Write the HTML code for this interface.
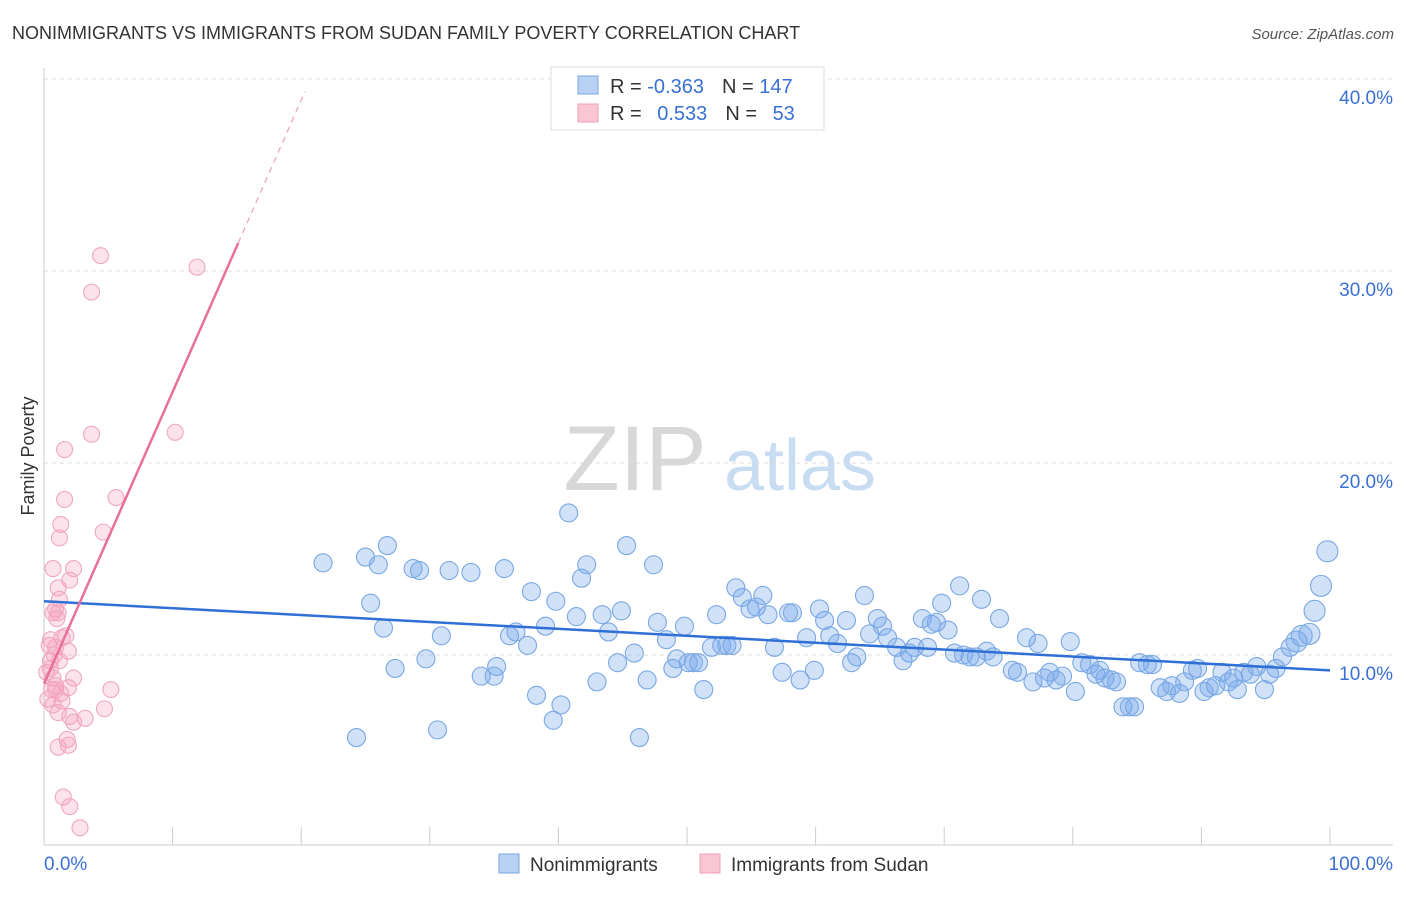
<!DOCTYPE html>
<html><head><meta charset="utf-8"><style>
body{margin:0;background:#fff;font-family:"Liberation Sans",sans-serif;}
svg text{font-family:"Liberation Sans",sans-serif;}
</style></head><body>
<svg id="chart" width="1406" height="892">
<text x="12" y="39" font-size="18" fill="#333">NONIMMIGRANTS VS IMMIGRANTS FROM SUDAN FAMILY POVERTY CORRELATION CHART</text>
<text x="1394" y="39" font-size="15" fill="#555" font-style="italic" text-anchor="end">Source: ZipAtlas.com</text>
<text x="0" y="0" transform="translate(34,456) rotate(-90)" font-size="18" fill="#333" text-anchor="middle">Family Poverty</text>
<g><text x="635" y="490" font-size="92" fill="#d8d8d8" font-family="Liberation Serif" text-anchor="middle">ZIP</text><text x="800" y="490" font-size="72" fill="#c8dcf2" text-anchor="middle">atlas</text></g>
<g id="grid"></g><g id="axes"></g><g id="pts"></g><g id="lines"></g>
<g>
<rect x="551" y="67" width="273" height="63" fill="#fff" stroke="#ddd"/>
<rect x="578" y="76" width="20" height="18" fill="#b8d2f4" stroke="#7aa6e2"/>
<rect x="578" y="104" width="20" height="18" fill="#f9c6d4" stroke="#f0a0b8"/>
<text x="610" y="93" font-size="20" fill="#333">R = <tspan fill="#3a70d4">-0.363</tspan><tspan dx="18">N = </tspan><tspan fill="#3a70d4">147</tspan></text>
<text x="610" y="120" font-size="20" fill="#333">R = <tspan fill="#3a70d4" dx="10">0.533</tspan><tspan dx="18">N = </tspan><tspan fill="#3a70d4" dx="10">53</tspan></text>
</g>
<g>
<rect x="499" y="854" width="20" height="19" fill="#b8d2f4" stroke="#7aa6e2"/>
<text x="530" y="871" font-size="19" fill="#333">Nonimmigrants</text>
<rect x="700" y="854" width="20" height="19" fill="#f9c6d4" stroke="#f0a0b8"/>
<text x="731" y="871" font-size="19" fill="#333">Immigrants from Sudan</text>
</g>
</svg>
<script>
const yTicks=[10,20,30,40];
const blueX=[21.7,25.0,26.0,26.7,25.4,26.4,27.3,28.7,29.2,30.9,29.7,30.6,24.3,31.5,33.2,35.8,34.0,35.2,35.0,36.2,36.7,37.6,37.9,38.3,39.0,39.6,39.8,40.2,40.8,41.4,41.8,42.2,43.0,43.4,43.9,44.6,44.9,45.3,45.9,46.3,46.9,47.4,47.7,48.4,48.9,49.2,49.8,50.1,50.5,50.9,51.3,51.9,52.3,52.7,53.1,53.5,53.8,54.3,54.9,55.4,55.9,56.3,56.8,57.4,57.9,58.2,58.8,59.3,59.9,60.3,60.7,61.1,61.7,62.4,62.8,63.2,63.8,64.2,64.8,65.2,65.6,66.3,66.8,67.3,67.7,68.3,68.7,69.0,69.4,69.8,70.3,70.8,71.2,71.5,72.0,72.5,72.9,73.3,73.8,74.3,75.3,75.7,76.4,76.9,77.3,77.8,78.2,78.7,79.2,79.8,80.2,80.7,81.3,81.8,82.1,82.5,83.0,83.4,83.9,84.4,84.8,85.2,85.8,86.2,86.8,87.3,87.7,88.3,88.7,89.3,89.7,90.2,90.6,91.1,91.6,92.1,92.5,92.8,93.3,93.8,94.3,94.9,95.3,95.8,96.3,96.9,97.4,97.8,98.4,98.8,99.3,99.8];
const blueY=[14.8,15.1,14.7,15.7,12.7,11.4,9.3,14.5,14.4,11.0,9.8,6.1,5.7,14.4,14.3,14.5,8.9,9.4,8.9,11.0,11.2,10.5,13.3,7.9,11.5,6.6,12.8,7.4,17.4,12.0,14.0,14.7,8.6,12.1,11.2,9.6,12.3,15.7,10.1,5.7,8.7,14.7,11.7,10.8,9.3,9.8,11.5,9.6,9.6,9.6,8.2,10.4,12.1,10.5,10.5,10.5,13.5,13.0,12.4,12.5,13.1,12.1,10.4,9.1,12.2,12.2,8.7,10.9,9.2,12.4,11.8,11.0,10.6,11.8,9.6,9.9,13.1,11.1,11.9,11.5,10.9,10.4,9.7,10.1,10.4,11.9,10.4,11.6,11.7,12.7,11.3,10.1,13.6,10.0,9.9,9.9,12.9,10.2,9.9,11.9,9.2,9.1,10.9,8.6,10.6,8.8,9.1,8.7,8.9,10.7,8.1,9.6,9.5,9.0,9.2,8.8,8.7,8.6,7.3,7.3,7.3,9.6,9.5,9.5,8.3,8.1,8.4,8.0,8.6,9.2,9.3,8.1,8.3,8.4,9.1,8.6,8.8,8.2,9.1,9.0,9.4,8.2,9.0,9.3,9.9,10.4,10.7,11.0,11.1,12.3,13.6,15.4];
const pinkX=[4.4,11.9,3.7,3.7,10.2,1.6,5.6,1.6,1.3,1.2,4.6,0.7,2.3,2.0,1.1,1.2,0.9,1.1,0.7,1.7,1.4,0.5,1.9,0.9,0.5,0.5,0.7,0.9,1.9,2.3,5.2,0.9,1.4,0.7,4.7,1.1,2.0,3.2,2.3,1.8,1.9,1.1,1.5,2.0,2.8,0.6,0.3,1.0,0.4,1.2,0.8,0.2,1.3];
const pinkY=[30.8,30.2,28.9,21.5,21.6,20.7,18.2,18.1,16.8,16.1,16.4,14.5,14.5,13.9,13.5,12.9,12.4,12.2,12.2,11.0,10.9,10.8,10.2,10.4,9.7,9.3,8.8,8.4,8.3,8.8,8.2,8.2,7.6,7.4,7.2,7.0,6.8,6.7,6.5,5.6,5.3,5.2,2.6,2.1,1.0,8.2,7.7,11.9,10.5,9.7,10.0,9.1,8.0];
const blueTrend=[12.8,-0.036];
const pinkTrend=[8.5,1.52];
const X=v=>44+v*12.86, Y=v=>847-v*19.2;
const NS="http://www.w3.org/2000/svg";
function mk(p,t,a){const e=document.createElementNS(NS,t);for(const k in a)e.setAttribute(k,a[k]);document.getElementById(p).appendChild(e);return e;}
yTicks.forEach(t=>{
 const g=mk('grid','line',{x1:44,x2:1393,y1:Y(t),y2:Y(t),stroke:'#ddd','stroke-dasharray':'4,4'});
 
 
 const l=mk('grid','text',{x:1393,y:Y(t)+25,'font-size':19,fill:'#3a70d4','text-anchor':'end'});
 l.textContent=t.toFixed(1)+'%';
 
 
});
const ax=mk('axes','line',{x1:44,x2:1393,y1:845,y2:845,stroke:'#ccc'});


const ay=mk('axes','line',{x1:44,x2:44,y1:68,y2:845,stroke:'#ccc'});


for(let i=0;i<=10;i++){const tk=mk('axes','line',{x1:X(i*10),x2:X(i*10),y1:827,y2:845,stroke:'#ccc'});
 
 }
[['0.0%',44,'start'],['100.0%',1393,'end']].forEach(d=>{const t=mk('axes','text',{x:d[1],y:870,'font-size':19,fill:'#3a70d4','text-anchor':d[2]});t.textContent=d[0];
 
 });
blueX.forEach((v,i)=>{const c=mk('pts','circle',{cx:X(v),cy:Y(blueY[i]),r:v>97?10.5:9,fill:'rgba(120,170,235,0.35)',stroke:'#7aa8e4','stroke-width':1.1});
 
 });
pinkX.forEach((v,i)=>{const c=mk('pts','circle',{cx:X(v),cy:Y(pinkY[i]),r:8,fill:'rgba(245,160,190,0.3)',stroke:'#f0a8bf','stroke-width':1.1});
 
 });
const bl=mk('lines','line',{x1:X(0),y1:Y(blueTrend[0]),x2:X(100),y2:Y(blueTrend[0]+100*blueTrend[1]),stroke:'#2f6fd6','stroke-width':2.5});


const pl=mk('lines','line',{x1:X(0),y1:Y(pinkTrend[0]),x2:X(15.1),y2:Y(pinkTrend[0]+15.1*pinkTrend[1]),stroke:'#e8709a','stroke-width':2.5});


const pd=mk('lines','line',{x1:X(15.1),y1:Y(pinkTrend[0]+15.1*pinkTrend[1]),x2:X(20.3),y2:Y(pinkTrend[0]+20.3*pinkTrend[1]),stroke:'#f0a0b8','stroke-width':1.2,'stroke-dasharray':'6,5'});


</script>
</body></html>
